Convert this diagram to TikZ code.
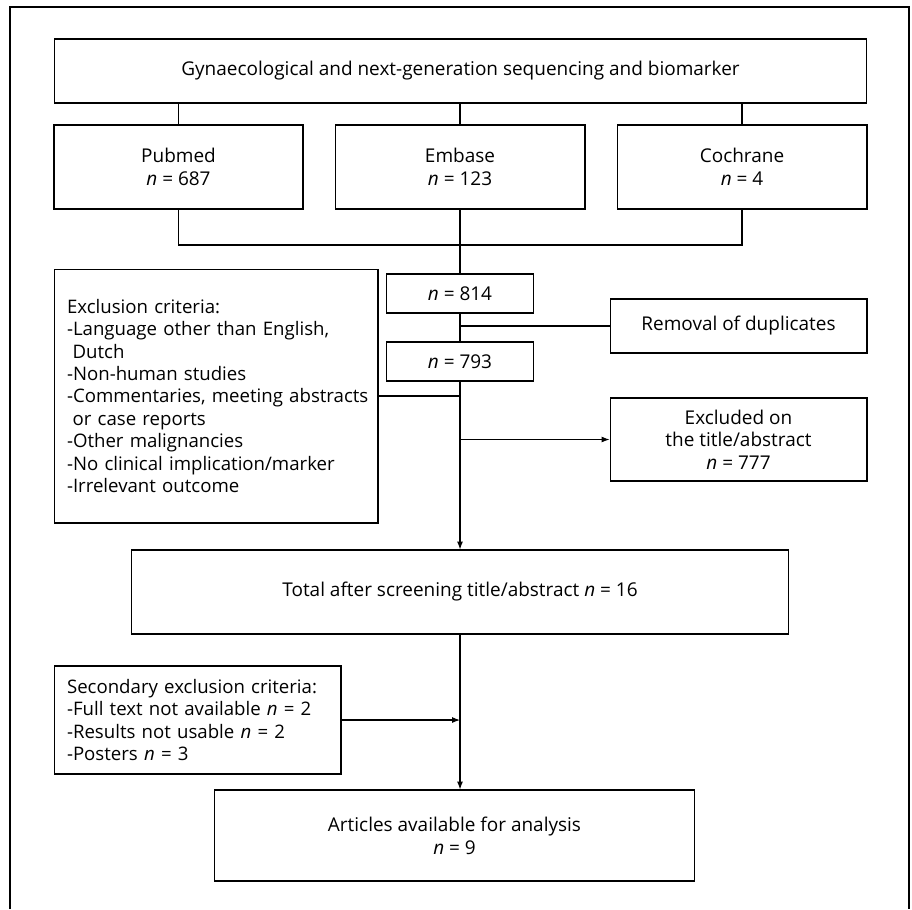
\documentclass[tikz,border=0pt]{standalone}
\usepackage{fontspec}
\setmainfont{Open Sans}
\usetikzlibrary{arrows.meta}
\begin{document}
\begin{tikzpicture}[x=0.02cm, y=-0.02cm,
		box/.style={draw, line width=0.6pt, inner sep=0pt, align=center, font=\fontsize{10.8}{12.9}\selectfont},
		listbox/.style={box, align=left, inner xsep=0.26cm, font=\fontsize{10.6}{12.8}\selectfont},
		conn/.style={line width=0.6pt},
		arr/.style={conn, -{Latex[length=4.5pt, width=3.4pt]}}]
		\useasboundingbox (0,0) rectangle (912,909);
		\draw[conn] (10,909) -- (10,7) -- (909,7) -- (909,909);
		
		\node[box, minimum width=16.26cm, minimum height=1.28cm] (top) at (460.5,71) {Gynaecological and next-generation sequencing and biomarker};
		\node[box, minimum width=4.98cm, minimum height=1.68cm] (pub) at (178.5,167) {Pubmed\\\textit{n} = 687};
		\node[box, minimum width=5cm, minimum height=1.68cm] (emb) at (460,167) {Embase\\\textit{n} = 123};
		\node[box, minimum width=5cm, minimum height=1.68cm] (coch) at (742,167) {Cochrane\\\textit{n} = 4};
		\coordinate (join) at (460,245);
		
		\node[box, minimum width=2.94cm, minimum height=0.78cm] (n814) at (460,293.5) {\textit{n} = 814};
		\node[box, minimum width=2.94cm, minimum height=0.78cm] (n793) at (460,361.5) {\textit{n} = 793};
		\node[listbox, text width=5.96cm, minimum height=5.08cm] (excl) at (216,396) {Exclusion criteria:\\-Language other than English,\\\hspace*{0.3em}Dutch\\-Non-human studies\\\mbox{-Commentaries, meeting abstracts}\\\hspace*{0.3em}or case reports\\-Other malignancies\\-No clinical implication/marker\\-Irrelevant outcome};
		\node[box, minimum width=5.14cm, minimum height=1.08cm] (rem) at (738.5,326) {Removal of duplicates};
		\node[box, minimum width=5.14cm, minimum height=1.66cm] (excl2) at (738.5,439.5) {Excluded on\\the title/abstract\\\textit{n} = 777};
		
		\node[box, minimum width=13.14cm, minimum height=1.68cm] (total) at (460,592) {Total after screening title/abstract \textit{n} = 16};
		\node[listbox, text width=5.22cm, minimum height=2.16cm] (sec) at (197.5,720) {Secondary exclusion criteria:\\-Full text not available \textit{n} = 2\\-Results not usable \textit{n} = 2\\-Posters \textit{n} = 3};
		\node[box, minimum width=9.62cm, minimum height=1.82cm] (art) at (454.5,835.5) {Articles available for analysis\\\textit{n} = 9};
		
		\draw[conn] (top.south -| pub.north) -- (pub.north);
		\draw[conn] (top.south -| emb.north) -- (emb.north);
		\draw[conn] (top.south -| coch.north) -- (coch.north);
		\draw[conn] (pub.south) |- (join) -| (coch.south);
		\draw[conn] (emb.south) -- (n814.north);
		\draw[conn] (n814.south) -- (n793.north);
		\draw[conn] (rem.west -| n814.south) -- (rem.west);
		\draw[conn] (excl.east) -- (excl.east -| n793.south);
		\draw[arr] (excl2.west -| n793.south) -- (excl2.west);
		\draw[arr] (n793.south) -- (total.north);
		\draw[arr] (total.south) -- (total.south |- art.north);
		\draw[arr] (sec.east) -- (sec.east -| total.south);
	\end{tikzpicture}
\end{document}
